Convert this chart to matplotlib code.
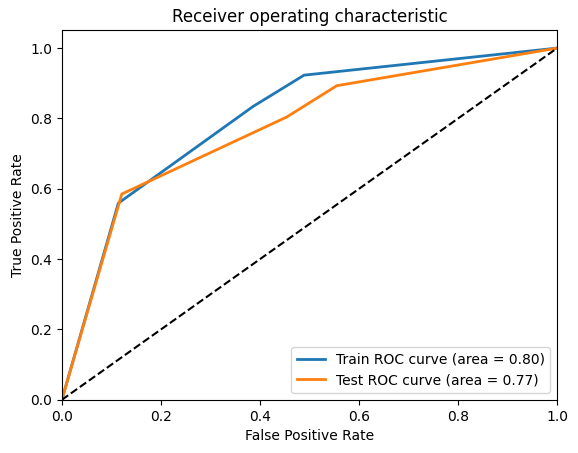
import matplotlib
matplotlib.use("Agg")
import matplotlib.pyplot as plt

train_fpr = [0.0, 0.114, 0.386, 0.489, 1.0]
train_tpr = [0.0, 0.559, 0.834, 0.923, 1.0]
test_fpr = [0.0, 0.121, 0.454, 0.555, 1.0]
test_tpr = [0.0, 0.585, 0.804, 0.893, 1.0]
train_auc = 0.80
test_auc = 0.77

fig = plt.figure(figsize=(5.78, 4.53), dpi=100)
ax = fig.add_axes([0.107, 0.1174, 0.857, 0.8153])
ax.plot(train_fpr, train_tpr, color="#1f77b4", lw=2, label="Train ROC curve (area = %0.2f)" % train_auc)
ax.plot(test_fpr, test_tpr, color="#ff7f0e", lw=2, label="Test ROC curve (area = %0.2f)" % test_auc)
ax.plot([0, 1], [0, 1], color="black", linestyle="--")
ax.set_xlim([0.0, 1.0])
ax.set_ylim([0.0, 1.05])
ax.set_xlabel("False Positive Rate")
ax.set_ylabel("True Positive Rate")
ax.set_title("Receiver operating characteristic")
ax.legend(loc="lower right")
fig.savefig("out.png", dpi=100)
